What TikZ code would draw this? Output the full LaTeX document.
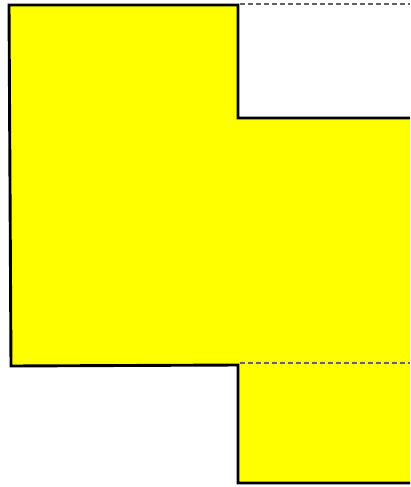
\documentclass[tikz,border=0pt]{standalone}
\usepackage{tikz}
\definecolor{shape_fill}{RGB}{255, 255, 0}
\definecolor{cut_line}{RGB}{100, 100, 100}

\begin{document}
\begin{tikzpicture}[x=1pt, y=-1pt]
\useasboundingbox (0, 0) rectangle (410, 487);
\fill[shape_fill] (9, 5) -- (238, 5) -- (238, 118) -- (410, 118) -- (410, 483)
  -- (238, 483) -- (238, 365) -- (11, 366) -- cycle;
\draw[line width=2.9pt, line join=miter] (410, 118) -- (238, 118) -- (238, 5)
  -- (9, 5) -- (11, 366) -- (238, 365) -- (238, 483) -- (410, 483);
\draw[line width=1.4pt, cut_line, dash pattern=on 5pt off 3pt] (240, 4) -- (410, 4);
\draw[line width=1.4pt, cut_line, dash pattern=on 5pt off 3pt] (240, 363) -- (410, 363);
\end{tikzpicture}
\end{document}
